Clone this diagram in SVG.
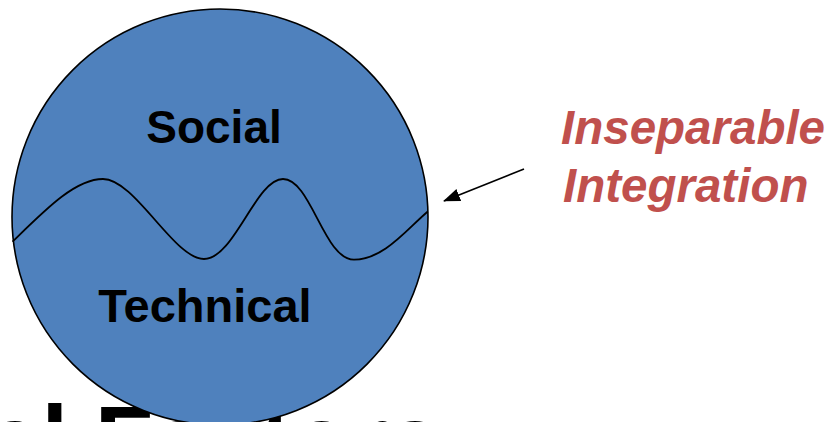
<svg xmlns="http://www.w3.org/2000/svg" width="834" height="422" viewBox="0 0 834 422">
  <style>
    .title { font-family: "Liberation Sans", Arial, sans-serif; font-weight: bold; font-size: 96px; fill: #000000; }
    .label { font-family: "Liberation Sans", Arial, sans-serif; font-weight: bold; font-size: 46px; fill: #000000; text-anchor: middle; }
    .note { font-family: "Liberation Sans", Arial, sans-serif; font-weight: bold; font-style: italic; font-size: 47.5px; fill: #C0504D; }
    .sphere { fill: #4F81BD; stroke: #000000; stroke-width: 1.6; }
    .wave { fill: none; stroke: #000000; stroke-width: 1.8; }
    .pointer { fill: none; stroke: #000000; stroke-width: 1.6; }
  </style>
  <defs>
    <marker id="arrowhead" markerUnits="userSpaceOnUse" markerWidth="17" markerHeight="13" refX="16" refY="6.5" orient="auto">
      <path d="M0,0 L17,6.5 L0,13 z" fill="#000000"/>
    </marker>
  </defs>

  <rect width="834" height="422" fill="#FFFFFF"/>

  <!-- slide title, partly hidden behind the circle -->
  <text class="title" x="-12" y="473">al Factors</text>

  <g id="sociotechnical-circle">
    <circle class="sphere" cx="220" cy="217" r="208"/>
    <path class="wave" d="M12.5,241.7 C45,210 75,179 103,179 C135,179 174,259 204,259 C234,259 256,179 283,179 C311,179 324,259.7 354,259.7 C384,259.7 408,228 427.8,211.5"/>
    <text class="label" x="214" y="143">Social</text>
    <text class="label" x="205" y="322" style="font-size:47px">Technical</text>
  </g>

  <g id="integration-note">
    <text class="note" x="561" y="144">Inseparable</text>
    <text class="note" x="563" y="202">Integration</text>
  </g>

  <g id="connectors">
    <line class="pointer" x1="524" y1="169" x2="444" y2="201" marker-end="url(#arrowhead)"/>
  </g>
</svg>
